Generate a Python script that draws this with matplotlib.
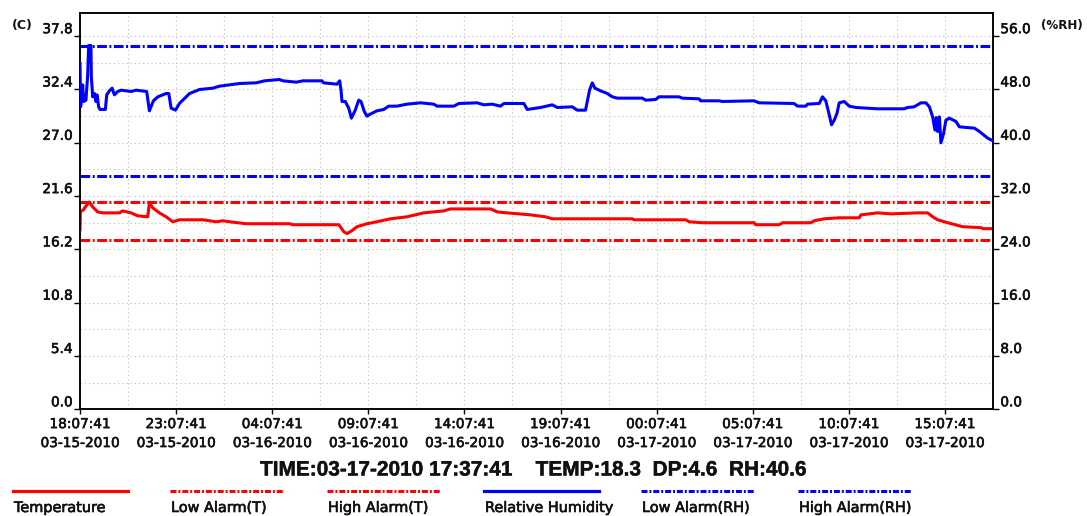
import numpy as np
import pandas as pd
import matplotlib
matplotlib.use("Agg")
import matplotlib.pyplot as plt
import matplotlib.dates as mdates
import matplotlib.patheffects as pe
from matplotlib.lines import Line2D

plt.rcParams["font.family"] = ["DejaVu Sans"]
plt.rcParams["lines.scale_dashes"] = False

# ── data ─────────────────────────────────────────────────────────────────────
START = pd.Timestamp("2010-03-15 18:07:41")
END = pd.Timestamp("2010-03-17 17:37:41")

# relative humidity: hours since START, %RH
rh_hours = [0.00, 0.03, 0.07, 0.14, 0.19, 0.31, 0.40, 0.45, 0.57, 0.59, 0.66, 0.75,
            0.83, 0.89, 0.97, 1.04, 1.32, 1.39, 1.53, 1.67, 1.79, 1.96, 2.14, 2.66,
            2.92, 3.47, 3.61, 3.82, 4.05, 4.48, 4.62, 4.74, 4.97, 5.17, 5.70, 6.22,
            6.91, 7.26, 8.30, 9.17, 9.60, 10.38, 10.56, 11.25, 11.60, 12.59, 12.67,
            13.37, 13.51, 13.58, 13.63, 13.80, 13.98, 14.12, 14.32, 14.50, 14.62,
            14.79, 14.93, 15.10, 15.45, 15.80, 16.06, 16.49, 17.01, 17.71, 18.40,
            18.58, 19.45, 19.71, 20.66, 21.01, 21.44, 21.88, 22.05, 23.09, 23.27,
            23.96, 24.57, 24.83, 25.61, 25.87, 26.30, 26.39, 26.51, 26.65, 26.79,
            27.08, 27.43, 27.69, 27.95, 29.25, 29.43, 29.95, 30.12, 31.16, 31.34,
            32.21, 32.29, 33.25, 33.42, 35.07, 35.33, 37.15, 37.33, 37.76, 37.85,
            38.46, 38.63, 38.80, 38.98, 39.10, 39.24, 39.38, 39.50, 39.76, 40.02,
            40.37, 41.49, 42.88, 43.06, 43.40, 43.75, 44.01, 44.19, 44.36, 44.48,
            44.55, 44.62, 44.71, 44.79, 44.93, 45.05, 45.23, 45.57, 45.75, 46.10,
            46.53, 46.79, 47.22, 47.50]
rh_values = [51.9, 45.4, 46.2, 48.7, 46.2, 46.4, 50.2, 54.6, 54.6, 49.9, 46.9, 47.4,
             46.2, 47.2, 45.4, 45.0, 45.0, 47.2, 47.8, 48.2, 47.2, 47.7, 47.9, 47.7,
             47.9, 47.7, 44.8, 46.3, 46.9, 47.4, 47.4, 45.2, 44.9, 45.9, 47.4, 48.0,
             48.2, 48.5, 48.9, 49.0, 49.3, 49.5, 49.3, 49.1, 49.3, 49.3, 49.0,
             48.8, 49.3, 47.9, 46.2, 46.2, 45.2, 43.7, 44.9, 46.4, 46.2,
             44.7, 44.0, 44.3, 44.8, 45.0, 45.5, 45.5, 45.8, 46.0, 45.8,
             45.5, 45.5, 45.9, 46.0, 45.7, 45.8, 45.5, 45.9, 45.9, 45.0,
             45.3, 45.7, 45.3, 45.4, 44.9, 44.9, 46.2, 47.9, 49.0, 48.2,
             47.8, 47.4, 46.9, 46.7, 46.7, 46.4, 46.5, 46.9, 46.9, 46.7,
             46.6, 46.3, 46.3, 46.2, 46.3, 46.0, 45.9, 45.5, 45.5, 45.8,
             45.9, 46.9, 46.3, 44.2, 42.7, 43.4, 44.4, 46.0, 46.2, 45.5,
             45.3, 45.1, 45.1, 45.3, 45.4, 46.0, 46.0, 45.4, 43.9, 41.9,
             43.8, 41.7, 43.9, 40.0, 41.4, 43.4, 43.7, 43.2, 42.4, 42.3,
             42.2, 41.7, 40.7, 40.3]

# temperature: hours since START, deg C
temp_hours = [0.00, 0.02, 0.17, 0.31, 0.49, 0.66, 0.92, 1.18, 2.05, 2.22, 2.66, 3.00,
              3.52, 3.61, 3.79, 4.13, 4.48, 4.83, 5.17, 6.39, 7.08, 7.43, 7.78, 8.65,
              10.90, 11.08, 13.46, 13.54, 13.72, 13.89, 14.15, 14.41, 14.93, 15.45,
              16.15, 17.01, 17.88, 18.92, 19.27, 21.36, 21.70, 22.22, 23.44, 24.22,
              24.57, 28.73, 28.82, 31.51, 31.69, 32.38, 35.07, 35.16, 36.37, 36.55,
              38.02, 38.20, 38.72, 39.50, 40.54, 40.63, 41.49, 42.19, 43.58, 44.10,
              44.36, 44.62, 45.14, 45.92, 46.88, 46.96, 47.50]
temp_values = [18.2, 20.0, 20.2, 20.6, 21.0, 20.5, 20.0, 19.9, 19.9, 20.1, 19.9, 19.6,
               19.5, 20.9, 20.4, 19.9, 19.5, 19.0, 19.2, 19.2, 19.0, 19.1, 19.0, 18.8,
               18.8, 18.7, 18.7, 18.5, 18.0, 17.8, 18.1, 18.5, 18.8, 19.0,
               19.3, 19.5, 19.9, 20.1, 20.3, 20.3, 20.0, 19.9, 19.7, 19.5,
               19.3, 19.3, 19.2, 19.2, 19.0, 18.9, 18.9, 18.7, 18.7, 18.9,
               18.9, 19.1, 19.3, 19.4, 19.4, 19.7, 19.9, 19.8, 19.9, 19.9,
               19.5, 19.2, 18.9, 18.5, 18.4, 18.3, 18.3]

T_LOW_ALARM, T_HIGH_ALARM = 17.2, 21.0
RH_LOW_ALARM, RH_HIGH_ALARM = 35.0, 54.5

temp_ticks = [0.0, 5.4, 10.8, 16.2, 21.6, 27.0, 32.4, 37.8]
rh_ticks = [0.0, 8.0, 16.0, 24.0, 32.0, 40.0, 48.0, 56.0]
T_TOP = 40.15
RH_TOP = T_TOP * 8.0 / 5.4

readout = "TIME:03-17-2010 17:37:41    TEMP:18.3  DP:4.6  RH:40.6"
legend_labels = ["Temperature", "Low Alarm(T)", "High Alarm(T)",
                 "Relative Humidity", "Low Alarm(RH)", "High Alarm(RH)"]

RED = "#ff0000"
BLUE = "#0000ff"
TXT = "#111111"
ALARM_DASH = (0, (7.0, 1.8, 1.4, 1.8))
HEAVY = [pe.withStroke(linewidth=0.45, foreground=TXT)]

rh_t = START + pd.to_timedelta(rh_hours, unit="h")
temp_t = START + pd.to_timedelta(temp_hours, unit="h")

# ── figure ───────────────────────────────────────────────────────────────────
W, H = 1087, 516
fig = plt.figure(figsize=(W / 100, H / 100), dpi=100)
ax = fig.add_axes([80 / W, 1 - 409.3 / H, (993 - 80) / W, (409.3 - 13) / H])
ax2 = ax.twinx()

ax.plot(temp_t, temp_values, color=RED, lw=2.2, zorder=3)
ax.axhline(T_LOW_ALARM, color=RED, lw=2.2, ls=ALARM_DASH, zorder=2)
ax.axhline(T_HIGH_ALARM, color=RED, lw=2.2, ls=ALARM_DASH, zorder=2)
ax2.plot(rh_t, rh_values, color=BLUE, lw=2.2, zorder=3)
ax2.axhline(RH_LOW_ALARM, color=BLUE, lw=2.2, ls=ALARM_DASH, zorder=2)
ax2.axhline(RH_HIGH_ALARM, color=BLUE, lw=2.2, ls=ALARM_DASH, zorder=2)

ax.set_xlim(START, END)
ax.set_ylim(0, T_TOP)
ax2.set_ylim(0, RH_TOP)

# x ticks every 5 h from the first sample, grid every 2.5 h
xt = START + pd.to_timedelta(np.arange(0, 46, 5), unit="h")
xm = START + pd.to_timedelta(np.arange(0, 48, 2.5), unit="h")
ax.set_xticks(xt)
ax.set_xticks(xm, minor=True)
ax.xaxis.set_major_formatter(mdates.DateFormatter("%H:%M:%S\n%m-%d-%Y"))

ax.set_yticks(temp_ticks)
ax.set_yticks(np.arange(2.7, 40, 5.4), minor=True)
ax.set_yticklabels([f"{v:.1f}" for v in temp_ticks])
ax2.set_yticks(rh_ticks)
ax2.set_yticklabels([f"{v:.1f}" for v in rh_ticks])

ax.grid(which="both", color="#c8c8c8", ls=(0, (1, 2)), lw=0.8)
ax.set_axisbelow(True)

ax.tick_params(axis="x", which="major", length=3.6, width=1, pad=2,
               labelsize=9.8, labelcolor=TXT)
ax.tick_params(axis="x", which="minor", length=0)
ax.tick_params(axis="y", which="major", length=4.3, width=1, pad=1,
               labelsize=9.8, labelcolor=TXT)
ax.tick_params(axis="y", which="minor", length=0)
ax2.tick_params(axis="y", length=4.3, width=1, pad=1, labelsize=9.8, labelcolor=TXT)

for lab in ax.get_xticklabels():
    lab.set_linespacing(1.45)
    lab.set_path_effects(HEAVY)
for lab in ax.get_yticklabels() + ax2.get_yticklabels():
    lab.set_verticalalignment("bottom")
    lab.set_path_effects(HEAVY)

for a in (ax, ax2):
    for sp in a.spines.values():
        sp.set_linewidth(1.1)
        sp.set_color("black")

fig.text(12 / W, 1 - 26 / H, "(C)", fontsize=9, fontweight="bold", color=TXT,
         va="center", ha="left")
fig.text(1041 / W, 1 - 26 / H, "(%RH)", fontsize=8.6, fontweight="bold", color=TXT,
         va="center", ha="left")

fig.text(260 / W, 1 - 470 / H, readout, fontsize=15, fontweight="bold",
         family=["Liberation Sans", "DejaVu Sans"], color=TXT, va="center", ha="left",
         path_effects=[pe.withStroke(linewidth=0.3, foreground=TXT)])

# ── legend under the chart: line on top, label below ─────────────────────────
leg_x0 = [13, 170, 327, 484, 641, 798]
leg_styles = [(RED, "-"), (RED, "dd"), (RED, "dd"),
              (BLUE, "-"), (BLUE, "dd"), (BLUE, "dd")]
for x0, (col, st), lab in zip(leg_x0, leg_styles, legend_labels):
    if st == "-":
        ln = Line2D([x0 / W, (x0 + 115) / W], [1 - 491 / H] * 2, color=col, lw=2.3,
                    transform=fig.transFigure)
    else:
        ln = Line2D([x0 / W, (x0 + 114) / W], [1 - 491 / H] * 2, color=col, lw=2.2,
                    ls=(0, (4.3, 1.4, 1.4, 1.4)), transform=fig.transFigure)
    fig.add_artist(ln)
    fig.text((x0 + 1) / W, 1 - 508 / H, lab, fontsize=10.4, color=TXT,
             va="center", ha="left", path_effects=HEAVY)

fig.savefig("out.png", dpi=100)
